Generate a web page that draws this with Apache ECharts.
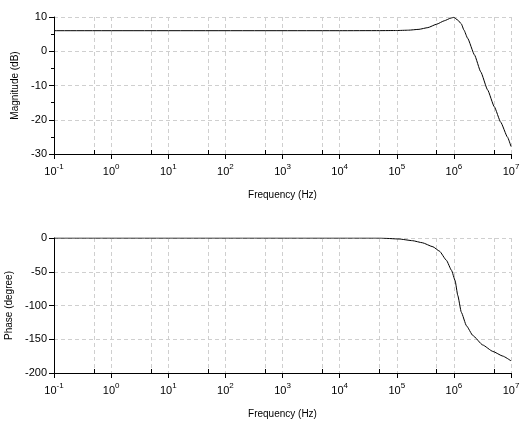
<!DOCTYPE html>
<html>
<head>
<meta charset="utf-8">
<script src="https://cdn.jsdelivr.net/npm/echarts@6/dist/echarts.min.js"></script>
<style>html,body{margin:0;padding:0;background:#fff}#c{width:528px;height:430px}</style>
</head>
<body>
<div id="c"></div>
<script>
// Magnitude response (frequency in Hz, gain in dB)
var magFreq = [0.1, 1e4, 5e4, 1e5, 1.6e5, 2.45e5, 3.5e5, 5e5, 6.8e5, 8.9e5, 1e6, 1.17e6, 1.35e6, 1.5e6, 1.74e6, 2.3e6, 2.95e6, 3.9e6, 5.1e6, 6.6e6, 8.7e6, 1e7];
var magDb   = [6.0, 6.0, 6.02, 6.05, 6.15, 6.4, 6.9, 7.9, 8.9, 9.7, 9.9, 9.1, 8.0, 6.2, 3.8, -1.1, -6.0, -11.3, -16.2, -20.7, -25.1, -27.8];
// Phase response (frequency in Hz, phase in degrees)
var phFreq = [0.1, 1e4, 5e4, 1.1e5, 1.9e5, 2.8e5, 4.3e5, 5.6e5, 7.4e5, 9.1e5, 1.05e6, 1.17e6, 1.35e6, 1.66e6, 2.15e6, 3.2e6, 4.8e6, 7.2e6, 1e7];
var phDeg  = [0, 0, 0, -1.5, -4, -7, -13, -19.5, -33, -48, -63, -85, -110, -130, -144.5, -158.5, -168, -175, -182];
// Axis ticks
var decadeTicks = [0.1, 1, 10, 100, 1000, 1e4, 1e5, 1e6, 1e7];
var fiveTicks = [0.5, 5, 50, 500, 5000, 5e4, 5e5, 5e6];
var magTicks = [-30, -20, -10, 0, 10];
var phTicks = [-200, -150, -100, -50, 0];

var FONT = 'Liberation Sans';
var gridLine = {show: true, lineStyle: {color: '#cfcfcf', type: [4, 3], width: 1}};

function pairs(xs, ys) { return xs.map(function (x, i) { return [x, ys[i]]; }); }

function mainX(gi) {
  return {
    type: 'log', logBase: 10, gridIndex: gi, min: decadeTicks[0], max: decadeTicks[decadeTicks.length - 1],
    name: 'Frequency (Hz)', nameLocation: 'middle', nameGap: 36,
    nameTextStyle: {fontFamily: FONT, fontSize: 10, color: '#000'},
    axisLine: {show: true, onZero: false, lineStyle: {color: '#000', width: 1}},
    axisTick: {show: true, inside: false, length: 5, lineStyle: {color: '#000'}, customValues: decadeTicks},
    axisLabel: {
      customValues: decadeTicks, margin: 10, color: '#000',
      formatter: function (v) { return '{b|10}{s|' + Math.round(Math.log10(v)) + '}'; },
      rich: {
        b: {fontFamily: FONT, fontSize: 11, lineHeight: 13, verticalAlign: 'bottom', color: '#000'},
        s: {fontFamily: FONT, fontSize: 8, lineHeight: 9, padding: [0, 0, 6, 0], verticalAlign: 'bottom', color: '#000'}
      }
    },
    splitLine: gridLine
  };
}
function minorX(gi) {
  return {
    type: 'log', logBase: 10, gridIndex: gi, min: decadeTicks[0], max: decadeTicks[decadeTicks.length - 1],
    position: 'bottom',
    axisLine: {show: false, onZero: false},
    axisTick: {show: true, inside: true, length: 4, lineStyle: {color: '#000'}, customValues: fiveTicks},
    axisLabel: {show: false, customValues: fiveTicks},
    splitLine: gridLine
  };
}
function yAx(gi, ticks, name, minor) {
  return {
    type: 'value', gridIndex: gi, min: ticks[0], max: ticks[ticks.length - 1], interval: ticks[1] - ticks[0],
    name: name, nameLocation: 'middle', nameGap: 29,
    nameTextStyle: {fontFamily: FONT, fontSize: 10, color: '#000'},
    axisLine: {show: true, lineStyle: {color: '#000', width: 1}},
    axisTick: {show: true, length: 5, lineStyle: {color: '#000'}},
    minorTick: {show: minor, splitNumber: 2, length: 3, lineStyle: {color: '#000'}},
    axisLabel: {margin: 7, fontFamily: FONT, fontSize: 11, color: '#000'},
    splitLine: gridLine
  };
}

var chart = echarts.init(document.getElementById('c'), null, {renderer: 'canvas'});
chart.setOption({
  animation: false,
  backgroundColor: '#fff',
  grid: [
    {left: 54, right: 17, top: 17, height: 137, containLabel: false, outerBoundsMode: 'none'},
    {left: 54, right: 17, top: 238, height: 135, containLabel: false, outerBoundsMode: 'none'}
  ],
  xAxis: [mainX(0), minorX(0), mainX(1), minorX(1)],
  yAxis: [yAx(0, magTicks, 'Magnitude (dB)', true), yAx(1, phTicks, 'Phase (degree)', false)],
  series: [
    {type: 'line', xAxisIndex: 0, yAxisIndex: 0, data: pairs(magFreq, magDb), showSymbol: false, smooth: 0.15, smoothMonotone: 'x',
     lineStyle: {color: '#000', width: 1}, silent: true},
    {type: 'line', xAxisIndex: 2, yAxisIndex: 1, data: pairs(phFreq, phDeg), showSymbol: false, smooth: 0.15, smoothMonotone: 'x',
     lineStyle: {color: '#000', width: 1}, silent: true}
  ]
});
</script>
</body>
</html>
